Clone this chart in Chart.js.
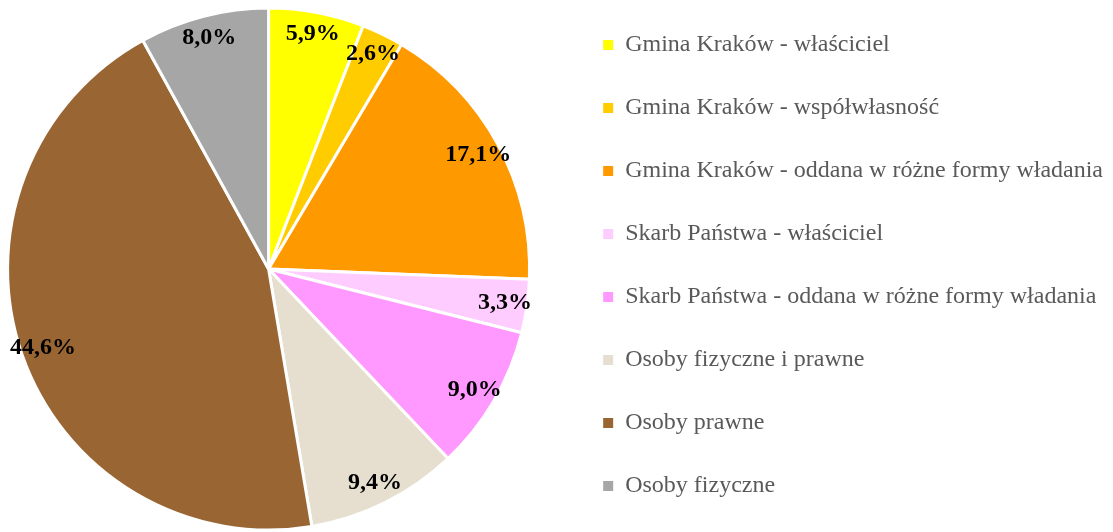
<!DOCTYPE html>
<html>
<head>
<meta charset="utf-8">
<script src="https://cdn.jsdelivr.net/npm/chart.js@4"></script>
<style>
html,body{margin:0;padding:0;background:#fff;overflow:hidden;}
#wrap{width:1113px;height:532px;position:relative;overflow:hidden;}
#c{position:absolute;left:-34px;top:-10px;}
</style>
</head>
<body>
<div id="wrap"><canvas id="c" width="1147" height="558"></canvas></div>
<script>
const categories = [
  "Gmina Kraków - właściciel",
  "Gmina Kraków - współwłasność",
  "Gmina Kraków - oddana w różne formy władania",
  "Skarb Państwa - właściciel",
  "Skarb Państwa - oddana w różne formy władania",
  "Osoby fizyczne i prawne",
  "Osoby prawne",
  "Osoby fizyczne"
];
const shares = [5.9, 2.6, 17.1, 3.3, 9.0, 9.4, 44.6, 8.0];
const colors = ["#FFFF00", "#FFCC00", "#FF9900", "#FFCCFF", "#FF99FF", "#E6DFCF", "#996633", "#A6A6A6"];

const SERIF = '"Liberation Serif", "Times New Roman", serif';

const labelPlugin = {
  id: 'sliceLabels',
  afterDatasetsDraw(chart) {
    const ctx = chart.ctx;
    const meta = chart.getDatasetMeta(0);
    ctx.save();
    ctx.font = 'bold 24px ' + SERIF;
    ctx.fillStyle = '#000';
    ctx.textAlign = 'center';
    ctx.textBaseline = 'middle';
    meta.data.forEach((arc, i) => {
      const p = arc.getProps(['x','y','startAngle','endAngle','outerRadius']);
      const mid = (p.startAngle + p.endAngle) / 2;
      const r = p.outerRadius * 0.915;
      const x = p.x + Math.cos(mid) * r;
      const y = p.y + Math.sin(mid) * r;
      ctx.fillText(shares[i].toFixed(1).replace('.', ',') + '%', x, y);
    });
    ctx.restore();
  }
};

new Chart(document.getElementById('c'), {
  type: 'pie',
  data: {
    labels: categories,
    datasets: [{
      data: shares,
      backgroundColor: colors,
      borderColor: '#FFFFFF',
      borderWidth: 3,
      radius: 261
    }]
  },
  options: {
    responsive: false,
    animation: false,
    layout: { padding: 0 },
    plugins: {
      tooltip: { enabled: false },
      legend: {
        position: 'right',
        align: 'center',
        labels: {
          boxWidth: 10,
          boxHeight: 10,
          padding: 32,
          color: '#595959',
          font: { family: SERIF, size: 24, lineHeight: '31px' },
          generateLabels(chart) {
            const base = Chart.overrides.pie.plugins.legend.labels.generateLabels(chart);
            return base.map(it => Object.assign(it, { text: [it.text], strokeStyle: it.fillStyle, lineWidth: 0 }));
          }
        }
      }
    }
  },
  plugins: [labelPlugin]
});
</script>
</body>
</html>
